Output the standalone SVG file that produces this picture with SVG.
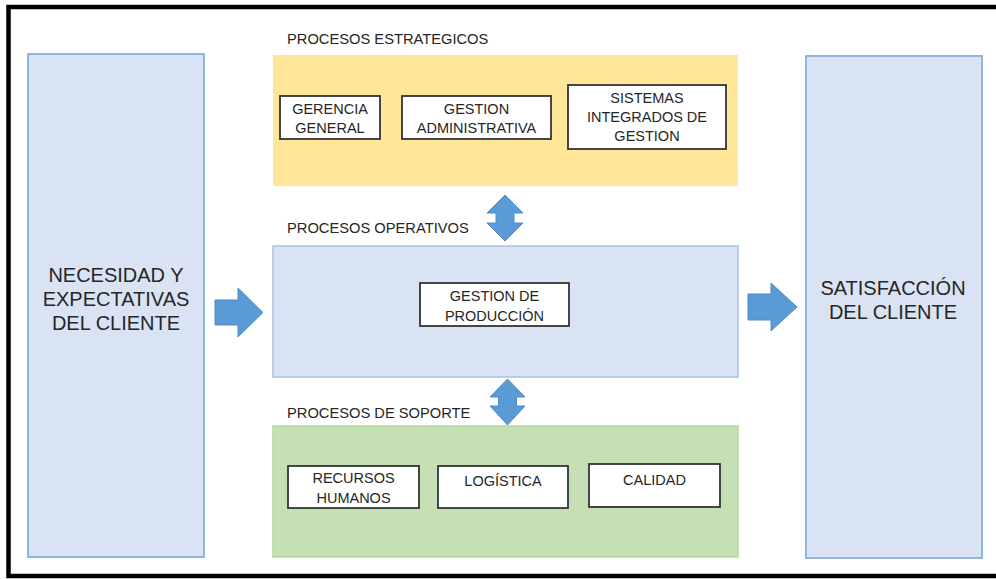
<svg xmlns="http://www.w3.org/2000/svg" width="996" height="579" viewBox="0 0 996 579">
<style>
  .bg { fill: #ffffff; }
  .frame { fill: none; stroke: #000; stroke-width: 4.5; }
  .side { fill: #DAE3F3; stroke: #8DB6E2; stroke-width: 2; }
  .ops { fill: #DAE3F3; stroke: #A9C1E6; stroke-width: 1.5; }
  .est { fill: #FFE699; }
  .sop { fill: #C5E0B4; stroke: #B5D99C; stroke-width: 1.5; }
  .box { fill: #ffffff; stroke: #333333; stroke-width: 1.8; }
  .arrow { fill: #5B9BD5; stroke: #4F8CC9; stroke-width: 1; }
  text { font-family: "Liberation Sans", Arial, sans-serif; fill: #262626; }
  .lbl { font-size: 14.7px; }
  .in { font-size: 14.5px; text-anchor: middle; }
  .big { font-size: 20px; text-anchor: middle; }
</style>
<rect class="bg" x="0" y="0" width="996" height="579"/>
<rect class="frame" x="8.5" y="7" width="1000" height="569"/>

<g id="necesidad">
  <rect class="side" x="28" y="54" width="176" height="503"/>
  <text class="big" x="116" y="282">NECESIDAD Y</text>
  <text class="big" x="116" y="306">EXPECTATIVAS</text>
  <text class="big" x="116" y="330">DEL CLIENTE</text>
</g>

<g id="satisfaccion">
  <rect class="side" x="806" y="56" width="176" height="502"/>
  <text class="big" x="893" y="295">SATISFACCIÓN</text>
  <text class="big" x="893" y="319">DEL CLIENTE</text>
</g>

<g id="estrategicos">
  <text class="lbl" x="287" y="44">PROCESOS ESTRATEGICOS</text>
  <rect class="est" x="273" y="55" width="465" height="131"/>
</g>
<g id="gerencia">
  <rect class="box" x="280" y="96" width="100" height="43"/>
  <text class="in" x="330" y="113.5">GERENCIA</text>
  <text class="in" x="330" y="133">GENERAL</text>
</g>
<g id="gestion-admin">
  <rect class="box" x="402" y="96" width="149" height="43"/>
  <text class="in" x="476.5" y="113.5">GESTION</text>
  <text class="in" x="476.5" y="133">ADMINISTRATIVA</text>
</g>
<g id="sistemas">
  <rect class="box" x="568" y="85" width="158" height="64"/>
  <text class="in" x="647" y="103">SISTEMAS</text>
  <text class="in" x="647" y="122">INTEGRADOS DE</text>
  <text class="in" x="647" y="140.5">GESTION</text>
</g>

<g id="operativos">
  <text class="lbl" x="287" y="233">PROCESOS OPERATIVOS</text>
  <rect class="ops" x="273" y="246" width="465" height="131"/>
</g>
<g id="gestion-produccion">
  <rect class="box" x="420" y="283" width="149" height="43"/>
  <text class="in" x="494.5" y="301">GESTION DE</text>
  <text class="in" x="494.5" y="321">PRODUCCIÓN</text>
</g>

<g id="soporte">
  <text class="lbl" x="287" y="418">PROCESOS DE SOPORTE</text>
  <rect class="sop" x="273" y="426" width="465" height="131"/>
</g>
<g id="recursos">
  <rect class="box" x="288" y="466" width="131" height="42"/>
  <text class="in" x="353.5" y="483">RECURSOS</text>
  <text class="in" x="353.5" y="503">HUMANOS</text>
</g>
<g id="logistica">
  <rect class="box" x="438" y="466" width="130" height="42"/>
  <text class="in" x="503" y="486">LOGÍSTICA</text>
</g>
<g id="calidad">
  <rect class="box" x="589" y="464" width="131" height="43"/>
  <text class="in" x="654.5" y="485">CALIDAD</text>
</g>

<g id="connectors">
  <polygon class="arrow" points="215,300 238,300 238,288 263,312.5 238,337 238,325 215,325"/>
  <polygon class="arrow" points="748,294 771,294 771,283 797,307 771,331 771,320 748,320"/>
  <polygon class="arrow" points="505,195 523,213 514,213 514,223 523,223 505,241 487,223 496,223 496,213 487,213"/>
  <polygon class="arrow" points="507.5,379 525,397 516.5,397 516.5,406 525,406 507.5,425 490,406 498.5,406 498.5,397 490,397"/>
</g>
</svg>
